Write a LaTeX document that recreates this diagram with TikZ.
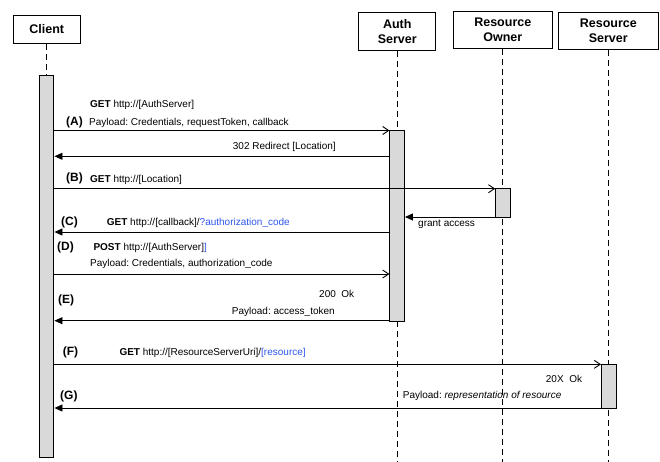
\documentclass[tikz,border=0pt]{standalone}
\usepackage{fontspec}
\setmainfont{Liberation Sans}
\usetikzlibrary{arrows.meta}
\frenchspacing
\definecolor{lnkblue}{RGB}{45,85,235}
\definecolor{barfill}{RGB}{217,217,217}
\tikzset{
  actor/.style={draw, line width=1pt, fill=white, align=center, inner sep=0pt,
    font=\fontsize{12.5}{15}\selectfont\bfseries},
  lifeline/.style={line width=1pt, dash pattern=on 6pt off 4pt},
  actbar/.style={draw, line width=1pt, fill=barfill, inner sep=0pt, minimum width=14.5pt},
  req/.style={line width=0.9pt, -{Straight Barb[length=6pt,width=8pt,line width=0.9pt]}},
  resp/.style={line width=0.9pt, -{Triangle[length=8pt,width=7pt]}},
  lbl/.style={anchor=west, inner sep=0pt, font=\fontsize{10}{12}\selectfont\frenchspacing},
  tag/.style={anchor=west, inner sep=0pt, font=\fontsize{12}{14}\selectfont\bfseries},
}
\begin{document}
\begin{tikzpicture}[x=1pt,y=-1pt]
\useasboundingbox (0,0) rectangle (660,462);
% actors
\node[actor, minimum width=66.7pt, minimum height=28pt] (client) at (46.7,29.3) {Client};
\node[actor, minimum width=76.7pt, minimum height=38.3pt] (auth) at (397.3,31.8) {Auth\\Server};
\node[actor, minimum width=99pt, minimum height=37.3pt] (owner) at (502.8,29.7) {Resource\\Owner};
\node[actor, minimum width=100pt, minimum height=37pt] (rs) at (608.3,30.8) {Resource\\Server};
% bottom coordinates of lifelines
\coordinate (bot) at (0,462);
\coordinate (cbtop) at (0,75.3);
% lifelines
\draw[lifeline] (auth.south) -- (auth.south |- bot);
\draw[lifeline] (owner.south) -- (owner.south |- bot);
\draw[lifeline] (rs.south) -- (rs.south |- bot);
\draw[lifeline] (client.south) -- (client.south |- cbtop);
% activation bars
\node[actbar, minimum height=382.4pt] (cbar) at (46.7,266.5) {};
\node[actbar, minimum height=191.2pt] (abar) at (397.2,226.1) {};
\node[actbar, minimum height=28.6pt] (obar) at (503,203) {};
\node[actbar, minimum height=44.5pt] (rbar) at (608.8,386.6) {};
% message levels
\coordinate (yA) at (0,130.5);
\coordinate (yR) at (0,156.3);
\coordinate (yB) at (0,188.7);
\coordinate (yGa) at (0,217);
\coordinate (yC) at (0,232);
\coordinate (yD) at (0,274);
\coordinate (yE) at (0,320.7);
\coordinate (yF) at (0,364.3);
\coordinate (yG) at (0,408);
% messages
\draw[req] (cbar.east |- yA) -- (abar.west |- yA);
\draw[resp] (abar.west |- yR) -- (cbar.east |- yR);
\draw[req] (cbar.east |- yB) -- (obar.west |- yB);
\draw[resp] (obar.west |- yGa) -- (abar.east |- yGa);
\draw[resp] (abar.west |- yC) -- (cbar.east |- yC);
\draw[req] (cbar.east |- yD) -- (abar.west |- yD);
\draw[resp] (abar.west |- yE) -- (cbar.east |- yE);
\draw[req] (cbar.east |- yF) -- (rbar.west |- yF);
\draw[resp] (rbar.west |- yG) -- (cbar.east |- yG);
% labels
\node[lbl] (tA1) at (90,104.8) {\textbf{GET} http://[AuthServer]};
\node[tag] (kA) at (66,122.7) {(A)};
\node[lbl] (tA2) at (89,123.2) {Payload: Credentials, requestToken, callback};
\node[lbl] (tR) at (232.7,146.5) {302 Redirect [Location]};
\node[tag] (kB) at (66,178.3) {(B)};
\node[lbl] (tB) at (90,179.8) {\textbf{GET} http://[Location]};
\node[lbl] (tGa) at (418,224.2) {grant access};
\node[tag] (kC) at (61,222.7) {(C)};
\node[lbl] (tC) at (106.7,223.2) {\textbf{GET} http://[callback]/\textcolor{lnkblue}{?authorization\_code}};
\node[tag] (kD) at (57,247.3) {(D)};
\node[lbl] (tD1) at (93.3,248.2) {\textbf{POST} http://[AuthServer]\textcolor{lnkblue}{]}};
\node[lbl] (tD2) at (90,263.5) {Payload: Credentials, authorization\_code};
\node[lbl] (tE1) at (319,293.8) {200\ \ Ok};
\node[tag] (kE) at (58,300) {(E)};
\node[lbl] (tE2) at (231.7,311.5) {Payload: access\_token};
\node[tag] (kF) at (62.7,352.3) {(F)};
\node[lbl] (tF) at (119.3,352.8) {\textbf{GET} http://[ResourceServerUri]/\textcolor{lnkblue}{[resource]}};
\node[lbl] (tG1) at (545.7,378.8) {20X\ \ Ok};
\node[tag] (kG) at (60,396.7) {(G)};
\node[lbl] (tG2) at (402.7,395.8) {Payload: \textit{representation of resource}};
\end{tikzpicture}
\end{document}
